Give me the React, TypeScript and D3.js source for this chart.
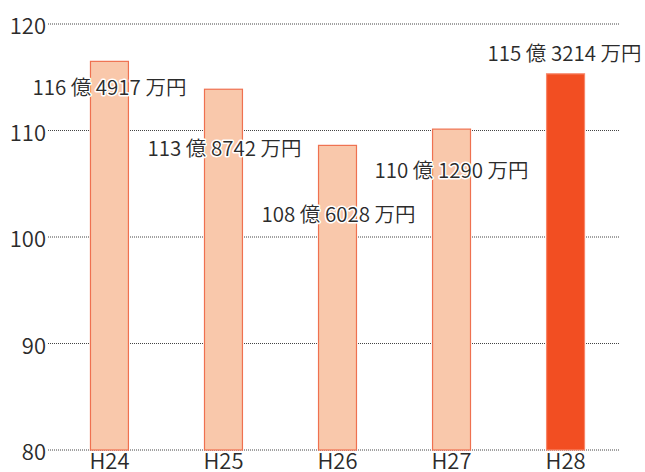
import * as d3 from "d3";

const categories = ["H24", "H25", "H26", "H27", "H28"];
const values = [116.4917, 113.8742, 108.6028, 110.129, 115.3214];
const valueLabels = [
  "116 億 4917 万円",
  "113 億 8742 万円",
  "108 億 6028 万円",
  "110 億 1290 万円",
  "115 億 3214 万円",
];
const yTicks = [80, 90, 100, 110, 120];

// label placement (baseline, in value units) and horizontal nudge in px
const labelAt = [113.3, 107.6, 101.4, 105.5, 116.5];
const labelDx = [0, 1, 1, 0, -1];

const W = 645;
const H = 472;
const font = "'Noto Sans CJK JP', 'Noto Sans', sans-serif";

export default function App() {
  const x = d3
    .scaleBand<string>()
    .domain(categories)
    .range([52.5, 622.5])
    .paddingInner(0.667)
    .paddingOuter(0.333);
  const y = d3.scaleLinear().domain([80, 120]).range([450, 24]);

  return (
    <svg
      width={W}
      height={H}
      style={{ position: "absolute", left: 0, top: 0, background: "#fff" }}
      fontFamily={font}
    >
      {yTicks.map((t) => (
        <g key={t}>
          <line
            x1={48}
            x2={619}
            y1={y(t)}
            y2={y(t)}
            stroke="#444"
            strokeWidth={1}
            strokeDasharray="1,1"
          />
          <text
            x={46}
            y={y(t)}
            textAnchor="end"
            dominantBaseline="central"
            fontSize={22}
            fontWeight={350}
            fill="#2b2b2b"
          >
            {t}
          </text>
        </g>
      ))}
      {categories.map((c, i) => {
        const last = i === categories.length - 1;
        return (
          <rect
            key={c}
            x={x(c)!}
            y={y(values[i])}
            width={x.bandwidth()}
            height={y(80) - y(values[i])}
            fill={last ? "#F24E22" : "#F9C8AB"}
            stroke={last ? "#F7876A" : "#EF7150"}
            strokeWidth={1.2}
          />
        );
      })}
      {categories.map((c) => (
        <text
          key={c}
          x={x(c)! + x.bandwidth() / 2}
          y={469}
          textAnchor="middle"
          fontSize={22}
          fontWeight={350}
          fill="#2b2b2b"
        >
          {c}
        </text>
      ))}
      {categories.map((c, i) => (
        <text
          key={c}
          x={x(c)! + x.bandwidth() / 2 + labelDx[i]}
          y={y(labelAt[i])}
          textAnchor="middle"
          fontSize={20.5}
          fontWeight={350}
          fill="#2b2b2b"
          stroke="#fff"
          strokeWidth={3}
          strokeLinejoin="round"
          paintOrder="stroke"
        >
          {valueLabels[i]}
        </text>
      ))}
    </svg>
  );
}
